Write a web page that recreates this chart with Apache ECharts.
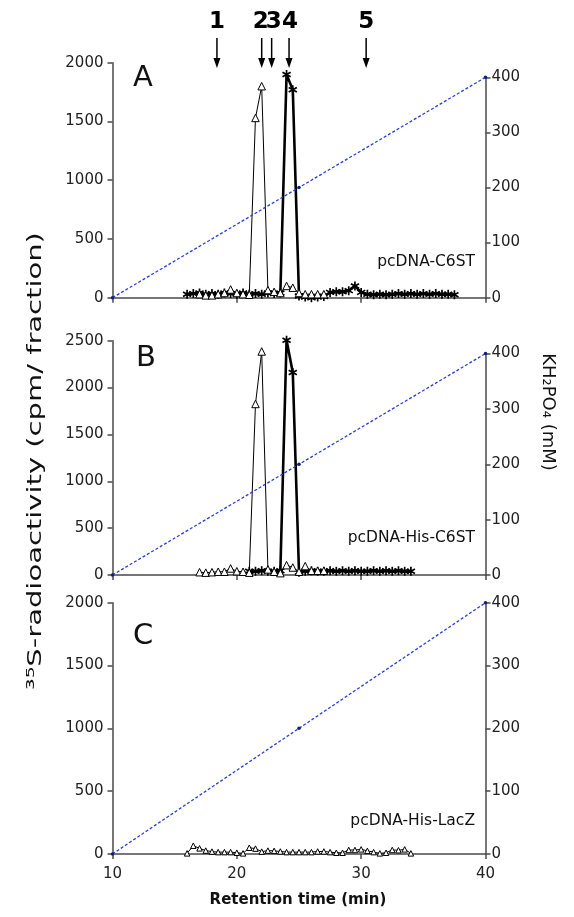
<!DOCTYPE html>
<html>
<head>
<meta charset="utf-8">
<script src="https://cdn.jsdelivr.net/npm/echarts@6/dist/echarts.min.js"></script>
<style>
html,body{margin:0;padding:0;background:#fff;}
#chart{width:574px;height:917px;}
</style>
</head>
<body>
<div id="chart"></div>
<script>
// ---------------- data ----------------
const xTicks = [10, 20, 30, 40];
const gradT = [10, 25, 40];
const gradV = [0, 200, 400];

const arrowTimes = [18.4, 22.0, 22.8, 24.2, 30.4];
const arrowLabels = ['1', '2', '3', '4', '5'];

const triA_t = [17,17.5,18,18.5,19,19.5,20,20.5,21,21.5,22,22.5,23,23.5,24,24.5,25,25.5,26,26.5,27];
const triA_v = [30,20,20,30,40,70,40,30,25,1530,1800,65,50,40,100,85,40,30,30,30,30];

const starA_t = [16,16.5,17,17.5,18,18.5,19,19.5,20,20.5,21,21.5,22,22.5,23,23.5,24,24.5,25,25.5,26,26.5,27,27.5,28,28.5,29,29.5,30,30.5,31,31.5,32,32.5,33,33.5,34,34.5,35,35.5,36,36.5,37,37.5];
const starA_v = [30,35,40,30,35,30,40,35,30,40,30,35,30,40,35,40,1900,1770,15,5,0,5,10,45,50,50,60,100,45,30,25,30,25,30,35,30,35,30,35,30,35,30,30,25];

const triB_t = [17,17.5,18,18.5,19,19.5,20,20.5,21,21.5,22,22.5,23,23.5,24,24.5,25,25.5,26,26.5,27];
const triB_v = [30,25,30,35,35,70,40,35,25,1825,2385,60,35,20,105,80,35,95,45,45,45];

const starB_t = [21,21.5,22,22.5,23,23.5,24,24.5,25,25.5,26,26.5,27,27.5,28,28.5,29,29.5,30,30.5,31,31.5,32,32.5,33,33.5,34];
const starB_v = [40,40,45,40,40,45,2505,2160,30,40,45,40,40,45,40,45,40,45,40,40,45,40,45,40,45,40,40];

const triC_t = [16,16.5,17,17.5,18,18.5,19,19.5,20,20.5,21,21.5,22,22.5,23,23.5,24,24.5,25,25.5,26,26.5,27,27.5,28,28.5,29,29.5,30,30.5,31,31.5,32,32.5,33,33.5,34];
const triC_v = [5,66,45,27,19,15,15,15,10,5,50,43,19,27,25,20,15,15,15,15,15,20,20,15,10,10,32,32,37,25,15,5,10,32,30,37,5];

const panelLetters = ['A', 'B', 'C'];
const sampleNames = ['pcDNA-C6ST', 'pcDNA-His-C6ST', 'pcDNA-His-LacZ'];
const leftTitle = '\u00B3\u2075S-radioactivity (cpm/ fraction)';
const rightTitle = 'KH\u2082PO\u2084 (mM)';
const xTitle = 'Retention time (min)';

// ---------------- layout ----------------
const FONT = 'DejaVu Sans';
const L = 112.5, R = 574 - 485.5;
const AX = '#4a4a4a';
const pairs = (t, v) => t.map((x, i) => [x, v[i]]);

const grids = [
  {left: L, right: R, top: 62.7, height: 235},    // 0 A left
  {left: L, right: R, top: 77.3, height: 220.4},  // 1 A right
  {left: L, right: R, top: 340.7, height: 234.3}, // 2 B left
  {left: L, right: R, top: 353.6, height: 221.4}, // 3 B right
  {left: L, right: R, top: 602.7, height: 251.3}, // 4 C left
  {left: L, right: R, top: 602.7, height: 251.3}, // 5 C right
  {left: L, right: R, top: 0, height: 70}         // 6 arrows
];

function xAx(gi, show, labels) {
  return {
    type: 'value', gridIndex: gi, min: xTicks[0], max: xTicks[xTicks.length - 1], interval: 10,
    show: show,
    axisLine: {show: true, onZero: false, lineStyle: {color: AX, width: 1.5}},
    axisTick: {show: true, inside: false, length: 5, lineStyle: {color: AX, width: 1.5}},
    axisLabel: {show: labels, margin: 13, fontSize: 15, fontFamily: FONT, color: '#222',
      formatter: v => String(v)},
    splitLine: {show: false}
  };
}
function yAx(gi, pos, max, interval) {
  return {
    type: 'value', gridIndex: gi, position: pos, min: 0, max: max, interval: interval,
    axisLine: {show: true, lineStyle: {color: AX, width: 1.5}},
    axisTick: {show: true, inside: false, length: 5, lineStyle: {color: AX, width: 1.5}},
    axisLabel: {margin: pos === 'left' ? 9 : 6, fontSize: 15, fontFamily: FONT, color: '#222',
      formatter: v => String(v)},
    splitLine: {show: false}
  };
}

const xAxes = [
  xAx(0, true, false), xAx(1, false, false),
  xAx(2, true, false), xAx(3, false, false),
  xAx(4, true, true), xAx(5, false, false),
  xAx(6, false, false)
];
const yAxes = [
  yAx(0, 'left', 2000, 500), yAx(1, 'right', 400, 100),
  yAx(2, 'left', 2500, 500), yAx(3, 'right', 400, 100),
  yAx(4, 'left', 2000, 500), yAx(5, 'right', 400, 100),
  {type: 'value', gridIndex: 6, min: 0, max: 1, show: false}
];

const STAR = 'path://M-0.18,1L0.18,1L0.18,-1L-0.18,-1ZM0.776,0.656L0.956,0.344L-0.776,-0.656L-0.956,-0.344ZM-0.956,0.344L-0.776,0.656L0.956,-0.344L0.776,-0.656Z';

function starSeries(ax, t, v) {
  return {type: 'line', xAxisIndex: ax, yAxisIndex: ax, data: pairs(t, v), symbol: STAR, symbolSize: 9,
    clip: false, itemStyle: {color: '#000'}, lineStyle: {color: '#000', width: 2.6}, z: 3};
}
function triSeries(ax, t, v, size) {
  return {type: 'line', xAxisIndex: ax, yAxisIndex: ax, data: pairs(t, v), symbol: 'triangle', symbolSize: size,
    clip: false, itemStyle: {color: '#fff', borderColor: '#000', borderWidth: 1}, lineStyle: {color: '#000', width: 1}, z: 4};
}
function gradSeries(ax) {
  return {type: 'line', xAxisIndex: ax, yAxisIndex: ax, data: pairs(gradT, gradV), symbol: 'circle', symbolSize: 3.5,
    clip: false, itemStyle: {color: '#10207a'}, lineStyle: {color: '#2a3fd6', width: 1.3, type: [3, 2]}, z: 5};
}

const labelShift = [0, -1, 2, 1, 0];
const arrowSeries = {
  type: 'custom', xAxisIndex: 6, yAxisIndex: 6, clip: false, z: 6,
  data: arrowTimes.map((t, i) => [t, i]),
  renderItem: function (params, api) {
    const i = api.value(1);
    const x = api.coord([api.value(0), 0])[0];
    return {type: 'group', children: [
      {type: 'text', x: x + labelShift[i], y: 22,
        style: {text: arrowLabels[i], fontSize: 23, fontWeight: 'bold', fontFamily: FONT, fill: '#000',
          textAlign: 'center', textVerticalAlign: 'middle', align: 'center', verticalAlign: 'middle'}},
      {type: 'line', shape: {x1: x, y1: 38, x2: x, y2: 60}, style: {stroke: '#000', lineWidth: 1.5}},
      {type: 'polygon', shape: {points: [[x - 3.5, 58], [x + 3.5, 58], [x, 68]]}, style: {fill: '#000'}}
    ]};
  }
};

function txt(text, x, y, size, align, extra) {
  return Object.assign({type: 'text', x: x, y: y, z: 10,
    style: {text: text, fontSize: size, fontFamily: FONT, fill: '#111',
      textAlign: align, align: align, textVerticalAlign: 'middle', verticalAlign: 'middle'}}, extra || {});
}

const graphics = [
  txt(panelLetters[0], 133, 78, 29, 'left'),
  txt(panelLetters[1], 136, 358, 29, 'left'),
  txt(panelLetters[2], 133, 636, 29, 'left'),
  txt(sampleNames[0], 475, 262, 15.5, 'right'),
  txt(sampleNames[1], 475, 538, 15.5, 'right'),
  txt(sampleNames[2], 475, 821, 15.5, 'right'),
  txt(leftTitle, 36, 461, 20, 'center', {rotation: Math.PI / 2, scaleX: 1.45}),
  txt(rightTitle, 548, 412, 18, 'center', {rotation: -Math.PI / 2}),
  {type: 'text', x: 298, y: 900, z: 10,
    style: {text: xTitle, fontSize: 15, fontWeight: 'bold', fontFamily: FONT, fill: '#111',
      textAlign: 'center', align: 'center', textVerticalAlign: 'middle', verticalAlign: 'middle'}}
];

const chart = echarts.init(document.getElementById('chart'), null, {renderer: 'canvas'});
chart.setOption({
  animation: false,
  backgroundColor: '#fff',
  grid: grids,
  xAxis: xAxes,
  yAxis: yAxes,
  series: [
    starSeries(0, starA_t, starA_v), triSeries(0, triA_t, triA_v, 7.5), gradSeries(1),
    starSeries(2, starB_t, starB_v), triSeries(2, triB_t, triB_v, 7.5), gradSeries(3),
    triSeries(4, triC_t, triC_v, 5.5), gradSeries(5),
    arrowSeries
  ],
  graphic: graphics
});
</script>
</body>
</html>
